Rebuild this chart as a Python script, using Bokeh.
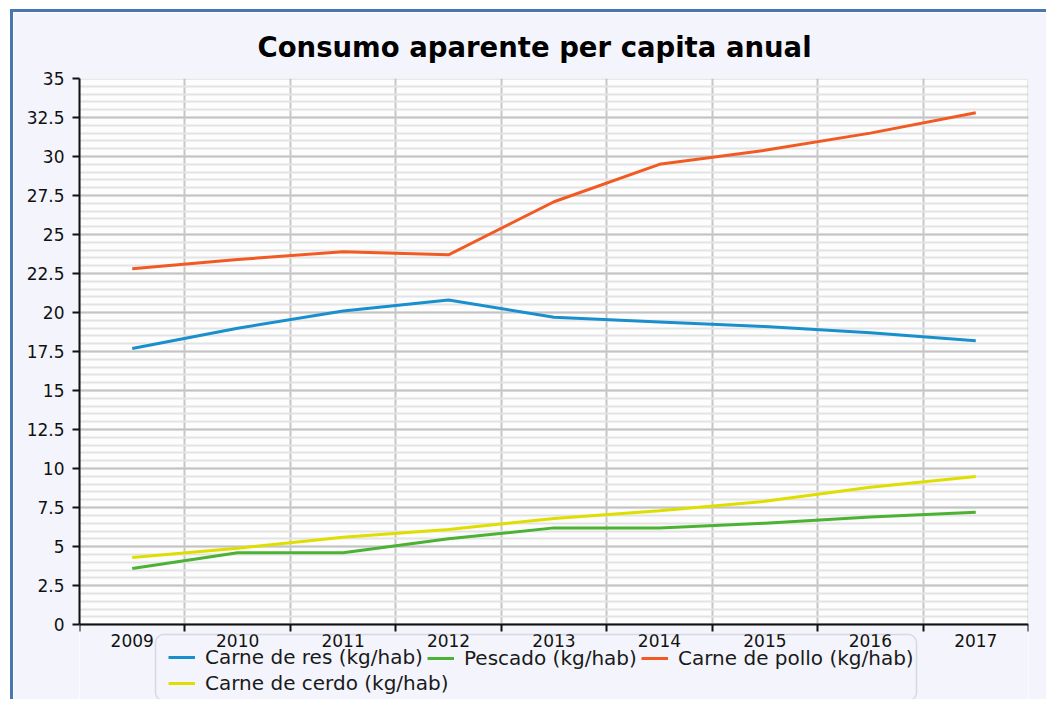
from bokeh.plotting import figure
from bokeh.models import (Range1d, FixedTicker, NumeralTickFormatter, Legend, LegendItem,
                          BoxAnnotation)
from bokeh.embed import file_html
from bokeh.resources import INLINE

years = [2009, 2010, 2011, 2012, 2013, 2014, 2015, 2016, 2017]
carne_res = [17.7, 19.0, 20.1, 20.8, 19.7, 19.4, 19.1, 18.7, 18.2]
pescado = [3.6, 4.6, 4.6, 5.5, 6.2, 6.2, 6.5, 6.9, 7.2]
carne_pollo = [22.8, 23.4, 23.9, 23.7, 27.1, 29.5, 30.4, 31.5, 32.8]
carne_cerdo = [4.3, 4.9, 5.6, 6.1, 6.8, 7.3, 7.9, 8.8, 9.5]
series_names = ["Carne de res (kg/hab)", "Pescado (kg/hab)",
                "Carne de pollo (kg/hab)", "Carne de cerdo (kg/hab)"]
series_colors = ["#1a8fce", "#4cb233", "#f15a22", "#dede00"]
y_ticks = [0, 2.5, 5, 7.5, 10, 12.5, 15, 17.5, 20, 22.5, 25, 27.5, 30, 32.5, 35]
title_text = "Consumo aparente per capita anual"

FONT = "DejaVu Sans"
BG = "#f4f5fc"

# layout (pixels): frame extends below the axis so the legend can sit there
W, H = 1036, 690
FRAME_W, FRAME_TOP, PLOT_H, BELOW_H = 949, 65, 547, 78
x_start, x_end = years[0] - 0.5, years[-1] + 0.5
y_min, y_max = y_ticks[0], y_ticks[-1]
y_start = y_min - (y_max - y_min) * BELOW_H / PLOT_H


def fx(px):   # frame pixel offset from the left -> x data
    return x_start + px * (x_end - x_start) / FRAME_W


def fy(px):   # frame pixel offset below the value axis -> y data
    return y_min - px * (y_max - y_min) / PLOT_H


p = figure(width=W, height=H, output_backend="svg", toolbar_location=None,
           x_range=Range1d(x_start, x_end), y_range=Range1d(y_start, y_max),
           title=title_text)
p.min_border_left = 66
p.min_border_right = 21
p.min_border_top = FRAME_TOP
p.min_border_bottom = 0
p.border_fill_color = BG
p.background_fill_color = "#fdfdfd"
p.outline_line_color = None
p.styles = {"border-left": "3px solid #4a76b0", "border-top": "3px solid #4a76b0",
            "margin-left": "10px", "margin-top": "9px"}

p.title.text_font = FONT
p.title.text_font_size = "27.5px"
p.title.text_font_style = "bold"
p.title.text_color = "#000000"
p.title.align = "left"
p.title.offset = 178
p.title.standoff = 32

# x axis: labels at years, ticks/grid at category boundaries
x_minor = [y - 0.5 for y in years] + [years[-1] + 0.5]
p.xaxis.fixed_location = y_min
p.xaxis.ticker = FixedTicker(ticks=years, minor_ticks=x_minor)
p.xaxis.formatter = NumeralTickFormatter(format="0")
p.xaxis.major_tick_out = 0
p.xaxis.major_tick_in = 0
p.xaxis.minor_tick_out = 7
p.xaxis.minor_tick_in = 0
p.xaxis.minor_tick_line_color = "#111111"
p.xaxis.minor_tick_line_width = 2
p.xaxis.axis_line_color = "#111111"
p.xaxis.axis_line_width = 2
p.xaxis.major_label_standoff = 2
p.xaxis.major_label_text_font = FONT
p.xaxis.major_label_text_font_size = "17px"
p.xaxis.major_label_text_color = "#111111"
p.xgrid.grid_line_color = None
p.xgrid.minor_grid_line_color = "#c6c6c6"
p.xgrid.minor_grid_line_width = 2

y_minor = [i * 0.5 for i in range(int(y_max / 0.5) + 1)]
p.yaxis.ticker = FixedTicker(ticks=y_ticks, minor_ticks=y_minor)
p.yaxis.bounds = (y_min, y_max)
p.yaxis.formatter = NumeralTickFormatter(format="0.[0]")
p.yaxis.major_tick_out = 7
p.yaxis.major_tick_in = 0
p.yaxis.minor_tick_out = 0
p.yaxis.minor_tick_in = 0
p.yaxis.major_tick_line_color = "#111111"
p.yaxis.major_tick_line_width = 2
p.yaxis.axis_line_color = "#111111"
p.yaxis.axis_line_width = 2
p.yaxis.major_label_standoff = 8
p.yaxis.major_label_text_font = FONT
p.yaxis.major_label_text_font_size = "17px"
p.yaxis.major_label_text_color = "#111111"
p.ygrid.grid_line_color = "#c4c4c4"
p.ygrid.grid_line_width = 2
p.ygrid.minor_grid_line_color = "#e3e3e3"
p.ygrid.minor_grid_line_width = 2

# area below the value axis takes the page colour; plot area gets a grey outline
p.add_layout(BoxAnnotation(left=x_start, right=x_end, bottom=y_start, top=y_min,
                           fill_color=BG, fill_alpha=1.0, line_alpha=0,
                           level="underlay"), "center")
p.add_layout(BoxAnnotation(left=x_start, right=x_end, bottom=y_min, top=y_max,
                           fill_alpha=0, line_color="#b8b8b8", line_width=3,
                           level="underlay"), "center")

rends = []
for name, vals, col in zip(series_names, [carne_res, pescado, carne_pollo, carne_cerdo], series_colors):
    rends.append(p.line(years, vals, line_color=col, line_width=3))

# legend frame (rounded grey box) spanning the legend columns
frame_box = BoxAnnotation(left=fx(76), right=fx(837), top=fy(10), bottom=fy(76),
                          fill_alpha=0, line_color="#9c9c9c", line_width=1.5,
                          level="annotation")
if "border_radius" in BoxAnnotation.properties():
    frame_box.border_radius = 8
p.add_layout(frame_box, "center")


def make_legend(idx, loc, orientation="vertical"):
    its = [LegendItem(label=series_names[i], renderers=[rends[i]]) for i in idx]
    lg = Legend(items=its, location=loc, orientation=orientation)
    lg.label_text_font = FONT
    lg.label_text_font_size = "20px"
    lg.label_text_color = "#1a1a1a"
    lg.glyph_width = 27
    lg.glyph_height = 20
    lg.label_standoff = 10
    lg.label_height = 20
    lg.spacing = 2
    lg.padding = 0
    lg.margin = 0
    lg.border_line_alpha = 0
    lg.background_fill_alpha = 0
    return lg


p.add_layout(make_legend([0, 3], (89, 7)), "center")
p.add_layout(make_legend([1], (348, 32)), "center")
p.add_layout(make_legend([2], (562, 32)), "center")

open("out.html", "w").write(file_html(p, INLINE))
